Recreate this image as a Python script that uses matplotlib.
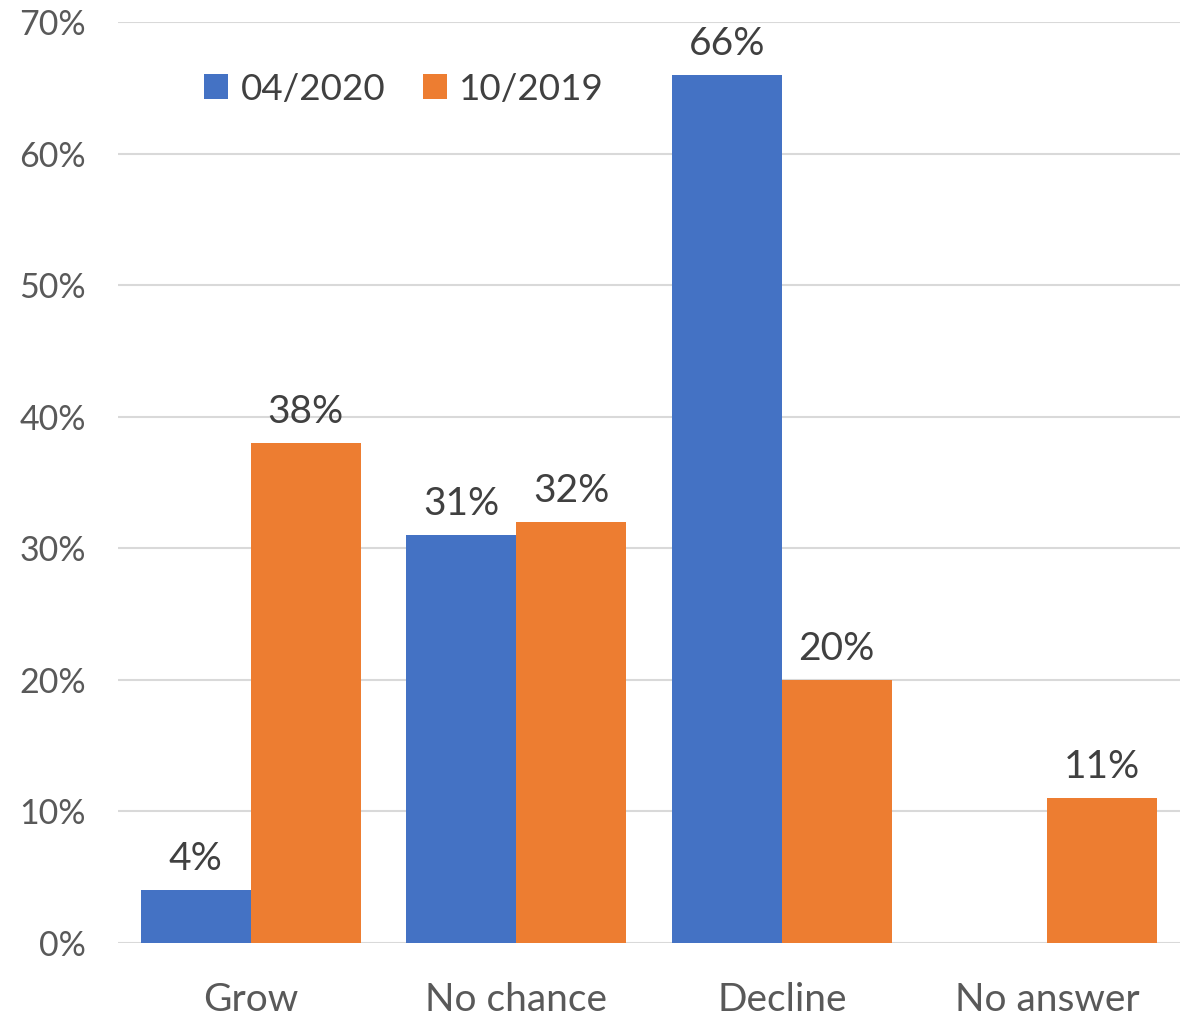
import numpy as np
import matplotlib.pyplot as plt

plt.rcParams['font.family'] = ['Lato', 'DejaVu Sans']

categories = ['Grow', 'No chance', 'Decline', 'No answer']
apr_2020 = [4, 31, 66, np.nan]
oct_2019 = [38, 32, 20, 11]
series_names = ['04/2020', '10/2019']
colors = ['#4472C4', '#ED7D31']
yticks = [0, 10, 20, 30, 40, 50, 60, 70]

fig = plt.figure(figsize=(11.85, 10.16), dpi=100)
ax = fig.add_axes([0.0996, 0.0719, 0.8962, 0.9064])

x = np.arange(len(categories))
w = 0.414
for vals, off, col, name in zip([apr_2020, oct_2019], [-w / 2, w / 2], colors, series_names):
    bars = ax.bar(x + off, vals, width=w, color=col, label=name, zorder=3)
    for b, v in zip(bars, vals):
        if np.isnan(v):
            continue
        ax.text(b.get_x() + b.get_width() / 2, v + 1.0, f'{v:.0f}%',
                ha='center', va='bottom', fontsize=28, color='#404040')

ax.set_xlim(-0.5, 3.5)
ax.set_ylim(0, 70)
ax.set_yticks(yticks)
ax.set_yticklabels([f'{t}%' for t in yticks])
ax.set_xticks(x)
ax.set_xticklabels(categories)
ax.tick_params(axis='y', length=0, pad=23, labelsize=24.5, labelcolor='#595959')
ax.tick_params(axis='x', length=0, pad=28, labelsize=28, labelcolor='#595959')
ax.grid(axis='y', color='#D9D9D9', linewidth=1.5, zorder=0)
for s in ax.spines.values():
    s.set_visible(False)

ax.legend(loc='upper left', bbox_to_anchor=(0.05, 0.981), ncol=2, frameon=False,
          fontsize=26.5, handlelength=0.65, handleheight=0.65, handletextpad=0.35,
          columnspacing=1.0, labelcolor='#404040')

fig.savefig('out.png', dpi=100)
